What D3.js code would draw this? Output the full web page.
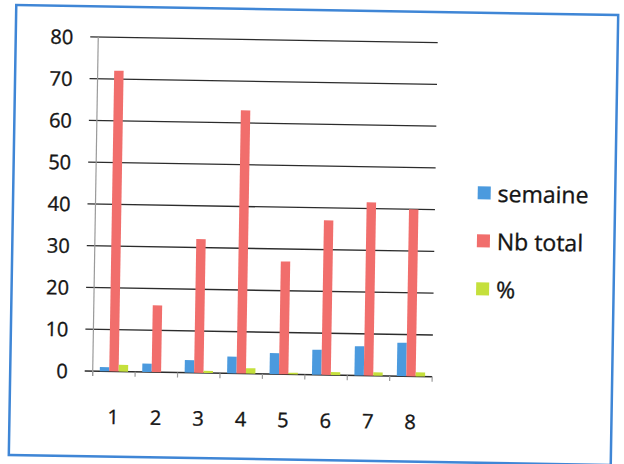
<!DOCTYPE html>
<html>
<head>
<meta charset="utf-8">
<script src="https://cdn.jsdelivr.net/npm/d3@7/dist/d3.min.js"></script>
<style>
  html, body { margin: 0; padding: 0; background: #fff; }
  svg { display: block; }
  text { font-family: "Open Sans", "Noto Sans", sans-serif; fill: #151515; stroke: #151515; stroke-width: 0.35px; }
</style>
</head>
<body>
<script>
// Weekly counts per period
const categories = ["1", "2", "3", "4", "5", "6", "7", "8"];
const seriesNames = ["semaine", "Nb total", "%"];
const semaine = [1, 2, 3, 4, 5, 6, 7, 8];
const nbTotal = [72, 16, 32, 63, 27, 37, 41.5, 40];
const pct = [1.6, 0, 0.5, 1.3, 0.4, 0.7, 0.8, 1.0];
const yTicks = [0, 10, 20, 30, 40, 50, 60, 70, 80];
const colors = ["#4b9ade", "#f16e6c", "#c5e03c"];

const W = 624, H = 464;
const svg = d3.select("body").append("svg").attr("width", W).attr("height", H);
svg.append("rect").attr("width", W).attr("height", H).attr("fill", "#fff");

// whole chart sits slightly tilted on the page
const g = svg.append("g").attr("transform", "rotate(0.95 313.5 235)");

// outer frame
g.append("rect")
  .attr("x", 12.5).attr("y", 10).attr("width", 602).attr("height", 450)
  .attr("fill", "none").attr("stroke", "#3f86d6").attr("stroke-width", 2.5);

const plot = { left: 95, right: 434.5, top: 40.6, bottom: 374.7 };

const x = d3.scaleBand().domain(categories).range([plot.left, plot.right]).padding(0);
const bw = x.bandwidth();
const x1 = d3.scaleBand().domain(seriesNames).range([bw / 6, bw * 5 / 6]).padding(0);
const y = d3.scaleLinear().domain([0, 80]).range([plot.bottom, plot.top]);

// horizontal gridlines with outside ticks
g.append("g").selectAll("line").data(yTicks).join("line")
  .attr("x1", plot.left - 8).attr("x2", plot.right)
  .attr("y1", d => y(d)).attr("y2", d => y(d))
  .attr("stroke", "#2c2c2c").attr("stroke-width", 1.4);

// y axis line
g.append("line")
  .attr("x1", plot.left).attr("x2", plot.left)
  .attr("y1", plot.top).attr("y2", plot.bottom + 5)
  .attr("stroke", "#9a9a9a").attr("stroke-width", 1.2);

// category tick marks along the bottom
const bounds = categories.map(c => x(c)).concat([plot.right]);
g.append("g").selectAll("line").data(bounds).join("line")
  .attr("x1", d => d).attr("x2", d => d)
  .attr("y1", plot.bottom).attr("y2", plot.bottom + 5)
  .attr("stroke", "#9a9a9a").attr("stroke-width", 1.2);

// y tick labels
g.append("g").selectAll("text").data(yTicks).join("text")
  .attr("x", 70).attr("y", d => y(d))
  .attr("text-anchor", "end").attr("dominant-baseline", "central")
  .attr("font-size", 20)
  .text(d => d);

// x tick labels
g.append("g").selectAll("text").data(categories).join("text")
  .attr("x", d => x(d) + bw / 2).attr("y", 427.5)
  .attr("text-anchor", "middle")
  .attr("font-size", 20)
  .text(d => d);

// bars
const seriesData = [semaine, nbTotal, pct];
seriesNames.forEach((name, si) => {
  g.append("g").selectAll("rect")
    .data(categories.map((c, i) => ({ c, v: seriesData[si][i] })))
    .join("rect")
    .attr("x", d => x(d.c) + x1(name))
    .attr("width", x1.bandwidth())
    .attr("y", d => y(d.v))
    .attr("height", d => y(0) - y(d.v))
    .attr("fill", colors[si]);
});

// legend
const legend = g.append("g").selectAll("g").data(seriesNames).join("g")
  .attr("transform", (d, i) => `translate(477, ${190 + i * 48})`);
legend.append("rect")
  .attr("x", 0).attr("y", -6.5).attr("width", 13).attr("height", 13)
  .attr("fill", (d, i) => colors[i]);
legend.append("text")
  .attr("x", 20).attr("y", 0)
  .attr("dominant-baseline", "central")
  .attr("font-size", 23)
  .text(d => d);
</script>
</body>
</html>
